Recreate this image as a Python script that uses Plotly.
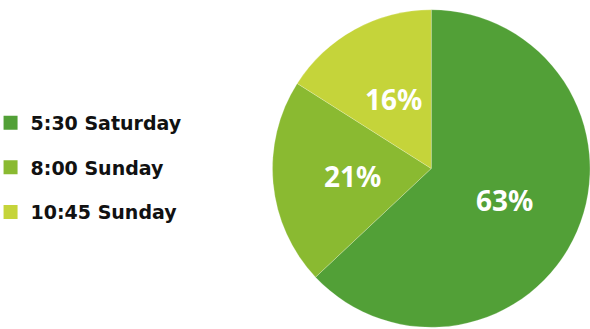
import math
import plotly.graph_objects as go

# Share of the total for each time slot
labels = ["5:30 Saturday", "8:00 Sunday", "10:45 Sunday"]
values = [63, 21, 16]
colors = ["#52a037", "#8aba31", "#c5d43a"]

W, H = 590, 329
# Pie placement (pixels)
pie_left, pie_top, pie_bottom = 272.5, 9, 328
dom_x = [pie_left / W, 1.0]
dom_y = [1 - pie_bottom / H, 1 - pie_top / H]
radius = min(W - pie_left, pie_bottom - pie_top) / 2
cx = pie_left + radius
cy = (pie_top + pie_bottom) / 2

fig = go.Figure()

fig.add_trace(go.Pie(
    labels=labels,
    values=values,
    sort=False,
    direction="clockwise",
    rotation=0,
    marker=dict(colors=colors, line=dict(color="rgba(255,255,255,0.35)", width=0.6)),
    textinfo="none",
    showlegend=False,
    domain=dict(x=dom_x, y=dom_y),
    hoverinfo="label+percent",
))

# Percentage labels at half radius along each slice's middle angle
total = sum(values)
cum = 0
for v in values:
    mid = (cum + v / 2) / total * 2 * math.pi
    cum += v
    px = cx + 0.5 * radius * math.sin(mid)
    py = cy - 0.5 * radius * math.cos(mid)
    fig.add_annotation(
        x=px / W, y=1 - py / H, xref="paper", yref="paper",
        text=f"{round(v / total * 100)}%", showarrow=False,
        font=dict(family="Noto Sans", size=28, color="white", weight="bold"),
        xanchor="center", yanchor="middle",
    )

# Legend entries: one square swatch per slot, spaced apart as groups
for name, col in zip(labels, colors):
    fig.add_trace(go.Scatter(
        x=[None], y=[None], mode="markers", name=name,
        legendgroup=name,
        marker=dict(symbol="square", color=col, size=14),
        showlegend=True,
    ))

fig.update_layout(
    width=W, height=H,
    margin=dict(l=0, r=0, t=0, b=0, autoexpand=False),
    paper_bgcolor="white",
    plot_bgcolor="white",
    xaxis=dict(visible=False),
    yaxis=dict(visible=False),
    legend=dict(
        x=-0.016, xanchor="left", y=0.49, yanchor="middle",
        font=dict(family="DejaVu Sans", size=19, color="#111111", weight="bold"),
        tracegroupgap=17,
        itemsizing="trace",
        bgcolor="rgba(0,0,0,0)",
    ),
)

fig.write_html("out.html")
